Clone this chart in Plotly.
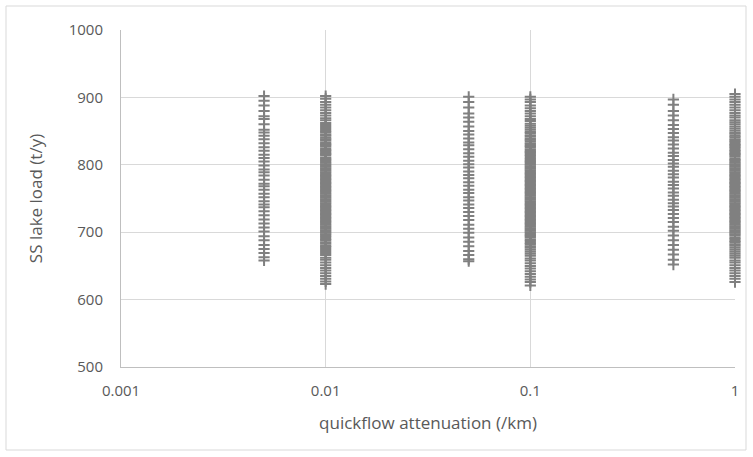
import plotly.graph_objects as go

# x categories (quickflow attenuation, /km)
x_vals = [0.005, 0.01, 0.05, 0.1, 0.5, 1]

# SS lake load (t/y) for each attenuation value
y_0005 = [902, 895, 888, 880, 872, 868, 860, 852, 848, 843, 838, 832, 826, 821, 815, 810,
          805, 799, 793, 789, 784, 778, 772, 768, 763, 757, 752, 746, 741, 737, 731, 725,
          719, 713, 707, 701, 694, 688, 681, 675, 669, 663, 658]
y_001 = [902, 898, 893, 889, 885, 881, 877, 873, 869, 866, 862, 859, 856, 853, 850, 848,
         845, 843, 840, 838, 836, 833, 831, 829, 827, 824, 822, 820, 818, 816, 814, 811,
         809, 807, 805, 803, 801, 799, 797, 795, 793, 791, 789, 787, 785, 783, 781, 779,
         777, 775, 773, 771, 769, 767, 765, 763, 761, 759, 757, 755, 753, 751, 749, 747,
         745, 743, 741, 739, 737, 735, 733, 731, 729, 727, 725, 723, 721, 719, 717, 715,
         713, 711, 709, 707, 705, 703, 701, 699, 697, 695, 693, 690, 688, 685, 683, 680,
         678, 675, 672, 669, 666, 662, 659, 655, 651, 647, 643, 639, 635, 631, 627, 623]
y_005 = [901, 893, 885, 876, 870, 864, 857, 850, 845, 839, 833, 829, 823, 817, 812, 806,
         801, 796, 790, 785, 780, 774, 769, 763, 758, 752, 747, 741, 736, 730, 724, 718,
         711, 705, 699, 692, 686, 679, 672, 666, 660, 657]
y_01 = [901, 897, 893, 888, 884, 880, 876, 872, 868, 865, 861, 858, 855, 852, 849, 847,
        844, 842, 839, 837, 835, 832, 830, 828, 826, 823, 821, 819, 817, 815, 813, 810,
        808, 806, 804, 802, 800, 798, 796, 794, 792, 790, 788, 786, 784, 782, 780, 778,
        776, 774, 772, 770, 768, 766, 764, 762, 760, 758, 756, 754, 752, 750, 748, 746,
        744, 742, 740, 738, 736, 734, 732, 730, 728, 726, 724, 722, 720, 718, 716, 714,
        712, 710, 708, 706, 704, 702, 700, 698, 696, 694, 692, 689, 687, 684, 682, 679,
        677, 674, 671, 668, 665, 661, 658, 654, 650, 646, 642, 638, 634, 630, 626, 621]
y_05 = [897, 889, 880, 873, 866, 859, 853, 847, 841, 836, 830, 824, 818, 813, 807, 802,
        797, 791, 786, 781, 775, 770, 765, 759, 754, 748, 743, 738, 733, 727, 721, 715,
        708, 702, 695, 688, 681, 674, 667, 659, 652]
y_1 = [905, 901, 897, 893, 889, 885, 881, 877, 873, 870, 866, 863, 860, 857, 854, 851,
       848, 846, 843, 841, 838, 836, 834, 831, 829, 827, 825, 822, 820, 818, 816, 814,
       812, 809, 807, 805, 803, 801, 799, 797, 795, 793, 791, 789, 787, 785, 783, 781,
       779, 777, 775, 773, 771, 769, 767, 765, 763, 761, 759, 757, 755, 753, 751, 749,
       747, 745, 743, 741, 739, 737, 735, 733, 731, 729, 727, 725, 723, 721, 719, 717,
       715, 713, 711, 709, 707, 705, 703, 701, 699, 697, 695, 692, 690, 687, 685, 682,
       680, 677, 674, 671, 668, 665, 662, 658, 655, 651, 647, 643, 639, 635, 631, 626]

x_ticks = [0.001, 0.01, 0.1, 1]
x_ticktext = ["0.001", "0.01", "0.1", "1"]
y_ticks = [500, 600, 700, 800, 900, 1000]

series = [y_0005, y_001, y_005, y_01, y_05, y_1]
xs, ys = [], []
for xv, yl in zip(x_vals, series):
    xs += [xv] * len(yl)
    ys += yl

fig = go.Figure(go.Scatter(
    x=xs, y=ys, mode="markers", cliponaxis=False,
    marker=dict(symbol="cross-thin", size=8, color="#808080",
                line=dict(width=2, color="#808080")),
    showlegend=False,
))

font_color = "#595959"
fig.update_layout(
    width=753, height=457,
    margin=dict(l=121, r=18, t=30, b=90),
    paper_bgcolor="white", plot_bgcolor="white",
    font=dict(family="Open Sans, sans-serif", size=15, color=font_color),
    xaxis=dict(type="log", range=[-3, 0], tickvals=x_ticks, ticktext=x_ticktext,
               showgrid=True, gridcolor="#d9d9d9", gridwidth=1,
               showline=True, linecolor="#bfbfbf", linewidth=1,
               ticks="", zeroline=False, ticklabelstandoff=10,
               tickfont=dict(size=15, color=font_color),
               title=dict(text="quickflow attenuation (/km)", font=dict(size=17, color=font_color),
                          standoff=18)),
    yaxis=dict(range=[500, 1000], tickvals=y_ticks,
               showgrid=True, gridcolor="#d9d9d9", gridwidth=1,
               showline=True, linecolor="#bfbfbf", linewidth=1,
               ticks="", zeroline=False, ticklabelstandoff=14,
               tickfont=dict(size=15, color=font_color),
               title=dict(text="SS lake load (t/y)", font=dict(size=17, color=font_color),
                          standoff=21)),
    shapes=[dict(type="rect", xref="paper", yref="paper",
                 x0=(6 - 121) / 614, x1=(746 - 121) / 614,
                 y0=(367 - 450) / 337, y1=(367 - 6) / 337,
                 line=dict(color="#d9d9d9", width=1), fillcolor="rgba(0,0,0,0)",
                 layer="below")],
)

fig.write_html("out.html")
